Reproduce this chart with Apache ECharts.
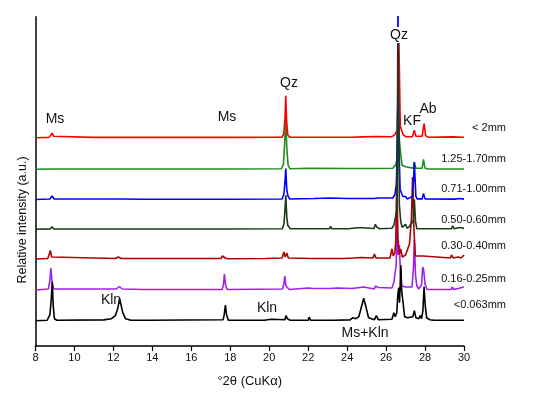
<!DOCTYPE html>
<html>
<head>
<meta charset="utf-8">
<script src="https://cdn.jsdelivr.net/npm/echarts@6/dist/echarts.min.js"></script>
<style>html,body{margin:0;padding:0;background:#fff}#c{width:550px;height:396px}</style>
</head>
<body>
<div id="c"></div>
<script>
// sample names (top to bottom)
const sampleNames = ['< 2mm', '1.25-1.70mm', '0.71-1.00mm', '0.50-0.60mm', '0.30-0.40mm', '0.16-0.25mm', '<0.063mm'];
// vertical offsets of each pattern (a.u.)
const offsets = [208.3, 176.7, 146.5, 116.7, 87, 56, 25.3];
const colors = ['#ff0000', '#1e8c1e', '#0000ff', '#1c3a1c', '#b00000', '#a020f0', '#000000'];
const xTicks = [8, 10, 12, 14, 16, 18, 20, 22, 24, 26, 28, 30];

// intensity profiles [2theta, intensity]
const pLt2 = [[8,0],[8.7,0.3],[8.78,2],[8.85,4.5],[8.93,1.5],[9.02,0.3],[10.9,0.3],[11.0,0.8],[11.1,0.3],[13.75,0.3],[13.85,1],[13.95,0.3],[17.65,0.3],[17.75,1.5],[17.85,0.3],[20.66,0.5],[20.75,4],[20.81,20],[20.85,42],[20.89,18],[20.95,3],[21.05,0.5],[22.25,0.4],[22.3,1.2],[22.35,0.4],[24.3,0.4],[24.8,0.8],[25.5,1.2],[26.3,1],[26.45,3],[26.5,5],[26.58,8],[26.66,95],[26.73,12],[26.8,7],[26.88,3],[27.0,1],[27.35,1],[27.45,7.5],[27.53,1.5],[27.85,1.5],[27.95,14],[28.03,2],[28.15,0.5],[29.4,0.8],[30,0.5]];
const p125 = [[8,0],[8.76,0.3],[8.85,2],[8.94,0.3],[17.7,0.3],[17.75,0.8],[17.8,0.3],[20.62,0.5],[20.73,5],[20.79,25],[20.85,52],[20.9,22],[20.97,4],[21.07,0.5],[22.0,1],[22.05,0.3],[24.3,0.8],[24.35,0.3],[25.45,0.8],[26.35,1],[26.5,5],[26.55,9],[26.6,60],[26.63,100],[26.68,30],[26.75,15],[26.82,4],[27.0,2.5],[27.08,0.8],[27.4,1],[27.45,7],[27.52,1],[27.85,1],[27.92,10],[28.0,1],[28.15,0.3],[30,0.3]];
const p071 = [[8,0],[8.74,0.5],[8.85,3.5],[8.96,0.5],[12.2,0.5],[12.3,1.2],[12.4,0.5],[13.55,0.3],[13.6,1.2],[13.65,0.3],[17.68,0.3],[17.75,2],[17.83,0.3],[20.66,0.5],[20.75,5],[20.8,15],[20.85,31],[20.9,10],[20.96,3.5],[21.06,0.5],[22.3,1],[23.15,1.5],[23.2,0.4],[24.0,1],[24.8,1],[25.4,1],[25.47,3],[25.6,1.5],[25.7,0.4],[26.35,1.5],[26.45,5],[26.53,15],[26.58,60],[26.61,195],[26.65,60],[26.72,10],[26.78,12],[26.86,3],[27.0,3],[27.08,0.6],[27.37,3],[27.45,37.5],[27.53,3],[27.6,0.6],[27.85,0.6],[27.92,6],[28.0,0.6],[29.35,0.4],[29.42,2],[29.5,0.4],[29.8,1],[30,0.4]];
const p050 = [[8,0],[8.76,0.4],[8.85,2.5],[8.94,0.4],[13.55,0.3],[13.6,1],[13.65,0.3],[17.7,0.3],[17.75,1],[17.8,0.3],[20.68,0.5],[20.76,6],[20.81,20],[20.85,34],[20.9,13],[20.95,4],[21.0,4],[21.08,0.5],[22.25,0.5],[22.3,2.5],[22.37,0.5],[23.1,0.5],[23.15,3],[23.22,0.5],[23.95,0.5],[24.0,2.5],[24.07,0.5],[24.5,1.5],[24.8,1.5],[25.38,0.8],[25.45,5],[25.53,2],[25.6,3],[25.68,0.5],[26.3,1],[26.4,4],[26.5,4],[26.56,20],[26.62,187],[26.68,25],[26.75,8],[26.82,2],[27.0,5],[27.08,1],[27.2,3],[27.3,1],[27.39,8],[27.45,30],[27.51,8],[27.58,0.5],[27.92,0.5],[27.97,2],[28.05,0.5],[29.35,0.5],[29.42,3.5],[29.5,0.5],[29.7,1.5],[29.9,1.5],[30,0.5]];
const p030 = [[8,0],[8.63,0.5],[8.71,5],[8.76,8.5],[8.83,2],[8.93,0.5],[12.1,0.5],[12.25,2],[12.4,0.5],[13.0,0.5],[13.5,0.5],[13.55,2.5],[13.62,0.5],[17.52,0.5],[17.6,3],[17.67,5],[17.74,1],[17.85,0.3],[19.8,0.5],[20.66,1],[20.75,7],[20.82,2],[20.9,6],[20.98,1],[22.15,0.5],[22.2,2.5],[22.27,0.5],[23.0,0.5],[23.05,2],[23.1,0.5],[23.85,0.5],[23.9,1.5],[24.3,1],[24.7,1.5],[25.33,1],[25.4,5],[25.48,1],[26.2,1],[26.3,10],[26.37,3],[26.45,6],[26.5,20],[26.55,85],[26.61,20],[26.68,5],[26.75,10],[26.83,2],[27.0,4],[27.08,2],[27.2,15],[27.3,40],[27.36,82],[27.43,30],[27.5,3],[27.6,2],[27.9,3],[28.0,1],[29.3,1],[29.36,4],[29.45,1],[29.7,2],[29.85,1],[30,4]];
const p016 = [[8,0],[8.66,1],[8.73,8],[8.79,22],[8.85,8],[8.93,1],[12.15,1],[12.3,3.5],[12.45,1],[13.55,0.5],[13.6,2],[13.65,0.5],[13.78,0.5],[13.82,2],[13.87,0.5],[17.58,0.5],[17.65,5],[17.7,16],[17.76,5],[17.84,0.5],[20.68,1],[20.75,6],[20.8,14],[20.86,4],[20.95,4],[21.03,0.5],[22.0,2],[22.05,0.5],[22.3,1.5],[23.1,1.5],[23.5,2],[23.55,0.5],[24.25,1.5],[24.85,3],[25.4,1],[25.45,4],[25.6,2.5],[25.7,0.5],[26.3,2],[26.4,8],[26.47,6],[26.52,25],[26.56,65],[26.62,35],[26.68,45],[26.74,15],[26.8,4],[27.0,3],[27.1,1],[27.33,3],[27.4,20],[27.45,50],[27.51,15],[27.58,4],[27.68,1],[27.82,5],[27.88,23],[27.93,20],[28.0,6],[28.1,0.5],[29.35,0.5],[29.4,3],[29.48,0.5],[29.8,2],[29.9,0.5],[30,3]];
const p0063 = [[8,0],[8.6,0.5],[8.74,6],[8.81,22],[8.86,39],[8.91,15],[8.97,2],[9.1,0.5],[11.5,0.8],[11.9,2],[12.1,5],[12.22,12],[12.32,22],[12.39,20],[12.48,8],[12.62,2],[12.9,0.5],[13.8,0.5],[13.85,1.5],[13.9,0.5],[17.63,1],[17.69,6],[17.75,15.5],[17.81,6],[17.9,0.5],[19.75,0.5],[19.8,2],[20.1,1.5],[20.8,1],[20.86,5],[20.93,2],[21.0,3],[21.08,0.5],[22.0,0.5],[22.05,3.5],[22.12,0.5],[23.15,0.5],[23.2,1.5],[23.3,0.5],[24.15,0.8],[24.3,3],[24.45,2],[24.6,4],[24.75,15],[24.85,22.5],[24.95,15],[25.1,3],[25.4,1],[25.5,5],[25.6,1],[26.3,1.5],[26.4,8],[26.47,4],[26.55,8],[26.6,25],[26.65,33],[26.69,18],[26.73,40],[26.76,55.5],[26.8,30],[26.86,20],[26.95,4],[27.1,3],[27.2,1],[27.37,4],[27.45,10],[27.53,3],[27.6,3],[27.68,2],[27.75,5],[27.82,2],[27.89,10],[27.95,34],[28.01,15],[28.08,3],[28.15,4],[28.25,1],[28.35,2],[28.45,0.5],[29.4,0.5],[29.45,2.5],[29.55,0.5],[29.8,0.5],[29.85,2.5],[29.95,0.5],[30,0.5]];
const profiles = [pLt2, p125, p071, p050, p030, p016, p0063];

// peak annotations
const peakLabels = ['Ms', 'Ms', 'Qz', 'Qz', 'KF', 'Ab', 'Kln', 'Kln', 'Ms+Kln'];

const chart = echarts.init(document.getElementById('c'), null, {renderer: 'canvas'});
const FONT = '"Liberation Sans", Arial, Helvetica, sans-serif';
const drawOrder = [5, 6, 4, 1, 2, 0, 3];
const series = drawOrder.map(i => ({
  name: sampleNames[i],
  type: 'line',
  showSymbol: false,
  symbol: 'none',
  clip: true,
  animation: false,
  lineStyle: {color: colors[i], width: 1.6},
  data: profiles[i].map(p => [p[0], p[1] + offsets[i]])
}));

const labelPos = [[55,119],[227,117],[289,83],[399,35],[412,121],[428,109],[111,300],[267,308],[365,333]];
const sampleLabelY = [128, 159, 189, 220, 246, 279, 305];
const graphics = [];
peakLabels.forEach((t, k) => {
  graphics.push({type: 'text', x: labelPos[k][0], y: labelPos[k][1], z: 100,
    style: {text: t, font: '14px ' + FONT, fill: '#111', align: 'center', verticalAlign: 'middle',
      textAlign: 'center', textVerticalAlign: 'middle',
      backgroundColor: k === 3 ? '#fff' : null, padding: k === 3 ? [1, 1] : 0}});
});
sampleNames.forEach((t, k) => {
  graphics.push({type: 'text', x: 506, y: sampleLabelY[k], z: 100,
    style: {text: t, font: '11px ' + FONT, fill: '#111', align: 'right', verticalAlign: 'middle',
      textAlign: 'right', textVerticalAlign: 'middle'}});
});
graphics.push({type: 'text', x: 22.5, y: 220, rotation: Math.PI / 2, z: 100,
  style: {text: 'Relative intensity (a.u.)', font: '12.5px ' + FONT, fill: '#111', align: 'center', verticalAlign: 'middle',
    textAlign: 'center', textVerticalAlign: 'middle'}});

chart.setOption({
  animation: false,
  backgroundColor: '#fff',
  grid: {left: 35.5, right: 86, top: 16.7, bottom: 50, containLabel: false},
  xAxis: {
    type: 'value', min: xTicks[0], max: xTicks[xTicks.length - 1], interval: 2,
    name: '°2θ (CuKα)', nameLocation: 'middle', nameGap: 29,
    nameTextStyle: {fontSize: 13, color: '#111', fontFamily: FONT},
    axisLine: {lineStyle: {color: '#000', width: 1.5}},
    axisTick: {show: true, inside: false, length: 5, lineStyle: {color: '#000', width: 1.2}},
    axisLabel: {fontSize: 11, color: '#111', fontFamily: FONT, margin: 6},
    splitLine: {show: false}
  },
  yAxis: {
    type: 'value', min: 0, max: 329.3,
    axisLine: {show: true, lineStyle: {color: '#000', width: 1.5}},
    axisTick: {show: false}, axisLabel: {show: false}, splitLine: {show: false}
  },
  series: series,
  graphic: graphics
});
</script>
</body>
</html>
